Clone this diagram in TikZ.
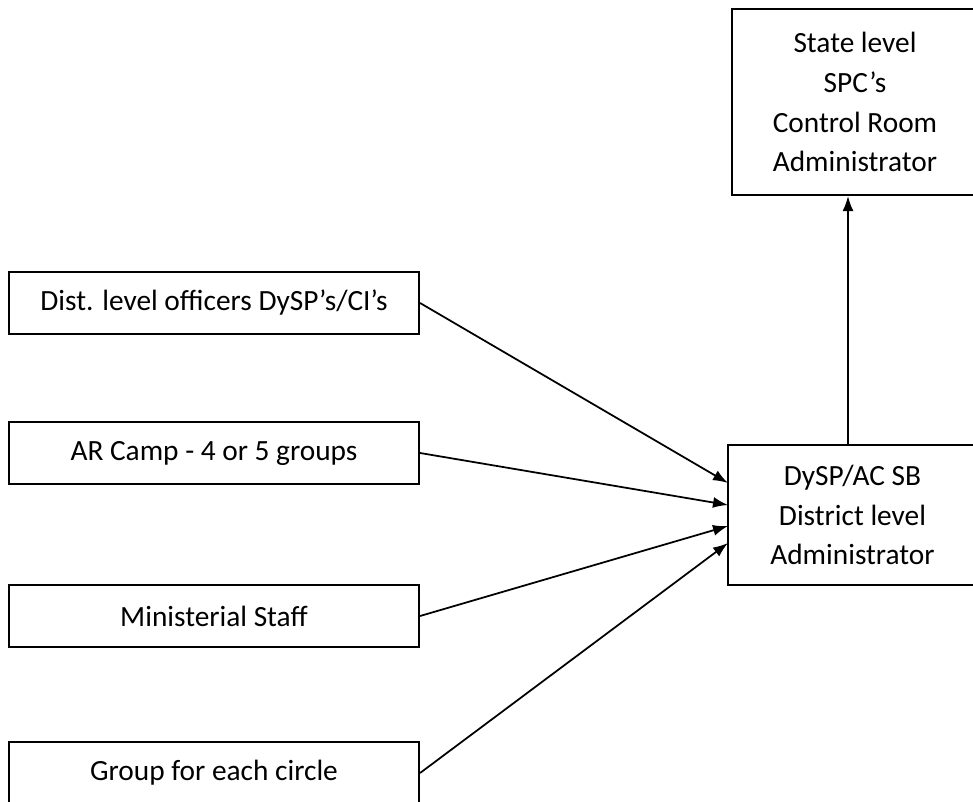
\documentclass[tikz,border=0pt]{standalone}
\usepackage{fontspec}
\setmainfont{Carlito}
\usetikzlibrary{arrows.meta}
\tikzset{arr/.style={-{Latex[length=3mm, width=2.2mm]}, line width=1pt}}
\tikzset{box/.style={draw, line width=1.2pt, inner sep=0pt, align=center,
    font=\fontsize{16.7}{22.7}\selectfont}}

\begin{document}
\begin{tikzpicture}[x=0.02cm, y=-0.02cm]
	\useasboundingbox (0,0) rectangle (973,801);
	\clip (0,0) rectangle (973,801);
	% right column
	\node (state) at (855,102) [box, minimum width=246*0.02cm, minimum height=186*0.02cm] {State level\\SPC's\\Control Room\\Administrator};
	\node (dysp) at (852.5,515) [box, minimum width=249*0.02cm, minimum height=140*0.02cm] {DySP/AC SB\\District level\\Administrator};
	% left column
	\node (dist) at (214,303) [box, minimum width=410*0.02cm, minimum height=62*0.02cm] {Dist. level officers DySP's/CI's};
	\node (camp) at (214,453) [box, minimum width=410*0.02cm, minimum height=62*0.02cm] {AR Camp - 4 or 5 groups};
	\node (staff) at (214,616) [box, minimum width=410*0.02cm, minimum height=62*0.02cm] {Ministerial Staff};
	\node (circle) at (214,773) [box, minimum width=410*0.02cm, minimum height=62*0.02cm] {Group for each circle};
	% arrow ends
	\coordinate (in1) at (728,483);
	\coordinate (in2) at (728,505);
	\coordinate (in3) at (728,526);
	\coordinate (in4) at (728,543);
	\coordinate (up) at (848,445);
	\draw [arr] (dist.east) -- (in1);
	\draw [arr] (camp.east) -- (in2);
	\draw [arr] (staff.east) -- (in3);
	\draw [arr] (circle.east) -- (in4);
	\draw [arr] (up) -- (up |- state.south);
\end{tikzpicture}
\end{document}
